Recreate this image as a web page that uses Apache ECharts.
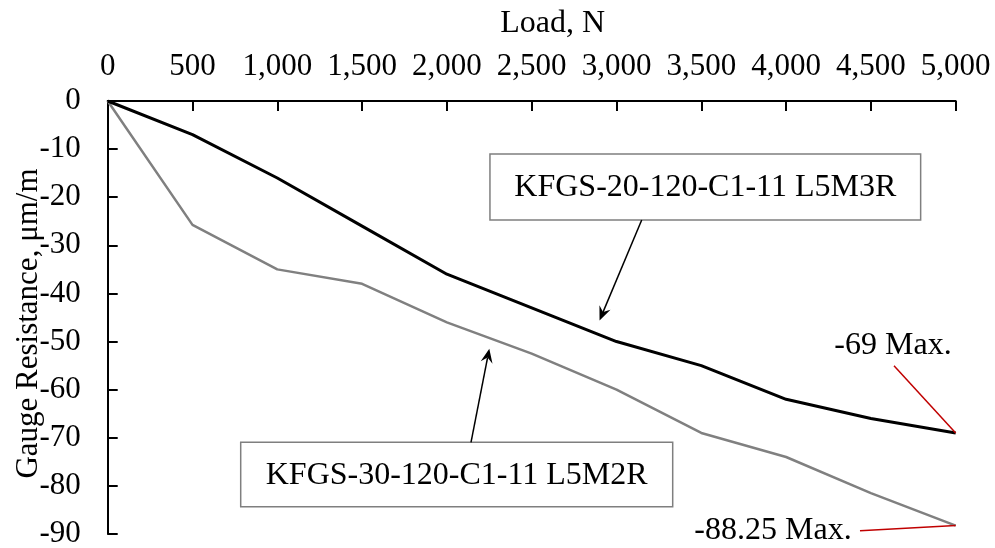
<!DOCTYPE html>
<html>
<head>
<meta charset="utf-8">
<script src="https://cdn.jsdelivr.net/npm/echarts@6/dist/echarts.min.js"></script>
<style>html,body{margin:0;padding:0;background:#fff}#c{width:995px;height:548px}</style>
</head>
<body>
<div id="c"></div>
<script>
var loads = [0, 500, 1000, 1500, 2000, 2500, 3000, 3500, 4000, 4500, 5000];
var seriesL5M3R = [0, -7, -16, -26, -36, -43, -50, -55, -62, -66, -69];
var seriesL5M2R = [0, -25.75, -35, -38, -46, -52.5, -60, -69, -74, -81.5, -88.25];
var nameL5M3R = 'KFGS-20-120-C1-11 L5M3R';
var nameL5M2R = 'KFGS-30-120-C1-11 L5M2R';
var maxLabelL5M3R = '-69 Max.';
var maxLabelL5M2R = '-88.25 Max.';

var FONT = '"Liberation Serif", "Times New Roman", serif';
var chart = echarts.init(document.getElementById('c'), null, {renderer: 'canvas'});

function pairs(xs, ys) { return xs.map(function (x, i) { return [x, ys[i]]; }); }
function addCommas(v) { return String(v).replace(/\B(?=(\d{3})+(?!\d))/g, ','); }

var option = {
  animation: false,
  backgroundColor: '#fff',
  grid: {left: 107.7, right: 39.3, top: 101, bottom: 14, containLabel: false, outerBoundsMode: 'none'},
  xAxis: {
    type: 'value', position: 'top', min: 0, max: 5000, interval: 500,
    name: 'Load, N', nameLocation: 'middle', nameGap: 61, nameMoveOverlap: false,
    nameTextStyle: {fontFamily: FONT, fontSize: 32, color: '#000', padding: [0, 0, 0, 42]},
    axisLine: {show: true, onZero: false, lineStyle: {color: '#000', width: 2}},
    axisTick: {show: true, inside: true, length: 10, lineStyle: {color: '#000', width: 2}},
    axisLabel: {fontFamily: FONT, fontSize: 31, color: '#000', margin: 19, formatter: function (v) { return addCommas(v); }},
    splitLine: {show: false}
  },
  yAxis: {
    type: 'value', min: -90, max: 0, interval: 10,
    name: 'Gauge Resistance, \u03bcm/m', nameLocation: 'middle', nameGap: 63, nameRotate: 90, nameMoveOverlap: false,
    nameTextStyle: {fontFamily: FONT, fontSize: 31, color: '#000', padding: [0, 12, 0, 0]},
    axisLine: {show: true, onZero: false, lineStyle: {color: '#000', width: 2}},
    axisTick: {show: true, inside: true, length: 10, lineStyle: {color: '#000', width: 2}},
    axisLabel: {fontFamily: FONT, fontSize: 31, color: '#000', margin: 27},
    splitLine: {show: false}
  },
  series: [
    {name: nameL5M3R, type: 'line', data: pairs(loads, seriesL5M3R), showSymbol: false, symbol: 'none',
     lineStyle: {color: '#000', width: 3}, z: 3},
    {name: nameL5M2R, type: 'line', data: pairs(loads, seriesL5M2R), showSymbol: false, symbol: 'none',
     lineStyle: {color: '#808080', width: 2.5}, z: 2}
  ]
};
chart.setOption(option);

function px(x, y) { return chart.convertToPixel({gridIndex: 0}, [x, y]); }

function arrow(x1, y1, x2, y2) {
  var dx = x2 - x1, dy = y2 - y1, L = Math.sqrt(dx * dx + dy * dy);
  var ux = dx / L, uy = dy / L, hl = 14, hw = 6, back = 9;
  var bx = x2 - ux * hl, by = y2 - uy * hl;
  var nx = -uy, ny = ux;
  var ix = x2 - ux * back, iy = y2 - uy * back;
  return [
    {type: 'line', shape: {x1: x1, y1: y1, x2: ix, y2: iy}, style: {stroke: '#000', lineWidth: 1.5}, z: 10},
    {type: 'polygon', shape: {points: [[x2, y2], [bx + nx * hw, by + ny * hw], [ix, iy], [bx - nx * hw, by - ny * hw]]},
     style: {fill: '#000'}, z: 10}
  ];
}

function box(cx, cy, w, h, text) {
  return {
    type: 'group', z: 9,
    children: [
      {type: 'rect', shape: {x: cx - w / 2, y: cy - h / 2, width: w, height: h},
       style: {fill: '#fff', stroke: '#7f7f7f', lineWidth: 1.5}},
      {type: 'text', x: cx, y: cy + 1,
       style: {text: text, font: '32px ' + FONT, fill: '#000', textAlign: 'center', textVerticalAlign: 'middle'}}
    ]
  };
}

var endA = px(loads[loads.length - 1], seriesL5M3R[seriesL5M3R.length - 1]);
var endB = px(loads[loads.length - 1], seriesL5M2R[seriesL5M2R.length - 1]);
var tipA = px(2900, -45.6);
var tipB = px(2250, -51.5);

var g = [];
g.push(box(705.3, 187, 430.7, 66, nameL5M3R));
g.push(box(456.7, 474.5, 432, 64.4, nameL5M2R));
g = g.concat(arrow(641.7, 220, tipA[0], tipA[1]));
g = g.concat(arrow(471, 442.3, tipB[0], tipB[1]));
g.push({type: 'line', shape: {x1: 894, y1: 365.7, x2: endA[0], y2: endA[1]}, style: {stroke: '#c00000', lineWidth: 1.5}, z: 10});
g.push({type: 'line', shape: {x1: 860, y1: 530.7, x2: endB[0], y2: endB[1]}, style: {stroke: '#c00000', lineWidth: 1.5}, z: 10});
g.push({type: 'text', x: 893, y: 346, z: 10,
  style: {text: maxLabelL5M3R, font: '32px ' + FONT, fill: '#000', textAlign: 'center', textVerticalAlign: 'middle'}});
g.push({type: 'text', x: 773, y: 531, z: 10,
  style: {text: maxLabelL5M2R, font: '32px ' + FONT, fill: '#000', textAlign: 'center', textVerticalAlign: 'middle'}});

chart.setOption({graphic: g});
</script>
</body>
</html>
